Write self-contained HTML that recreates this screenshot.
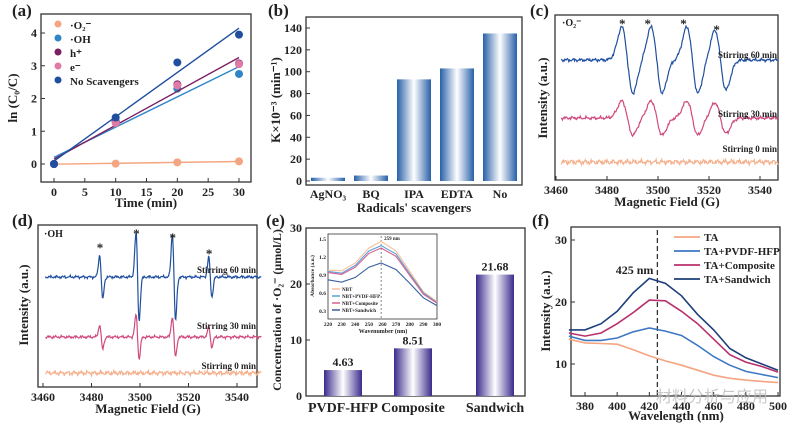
<!DOCTYPE html>
<html><head><meta charset="utf-8"><style>
body{margin:0;background:#fff}
svg text{font-family:"Liberation Serif",serif;font-weight:bold;fill:#222}
</style></head><body>
<svg id="s" width="795" height="433" viewBox="0 0 795 433" xmlns="http://www.w3.org/2000/svg">
<defs>
<linearGradient id="gb" x1="0" x2="1"><stop offset="0" stop-color="#2760a8"/><stop offset="0.5" stop-color="#ffffff"/><stop offset="1" stop-color="#2760a8"/></linearGradient>
<linearGradient id="ge" x1="0" x2="1"><stop offset="0" stop-color="#3a2b8c"/><stop offset="0.5" stop-color="#ffffff"/><stop offset="1" stop-color="#3a2b8c"/></linearGradient>
</defs>
</svg>
<script>
// ---- panel a data
const aTimes=[0,10,20,30];
const aO2=[0,0.01,0.05,0.08];
const aOH=[0,1.3,2.3,2.75];
const aH=[0,1.3,2.43,3.07];
const aE=[0,1.25,2.4,3.05];
const aNo=[0,1.42,3.1,3.95];
const aNames=['·O₂⁻','·OH','h⁺','e⁻','No Scavengers'];
// ---- panel b data
const bCats=['AgNO₃','BQ','IPA','EDTA','No'];
const bVals=[3,5,93,103,135];
// ---- panel c/d data (EPR lines)
const cCenters=[3488,3499.5,3513.5,3524.5];
const cAmps60=[1,1,1,0.9];
const cAmps30=[0.5,0.5,0.5,0.45];
const dCenters=[3484,3499,3514,3529];
const dAmps60=[0.5,1,1,0.45];
const dAmps30=[0.3,0.55,0.5,0.25];
// ---- panel e data
const eCats=['PVDF-HFP','Composite','Sandwich'];
const eVals=[4.63,8.51,21.68];
const insX=[220,230,240,250,259,270,280,290,300];
const insNBT=[0.98,0.97,1.1,1.35,1.46,1.3,0.96,0.62,0.46];
const insPV=[0.96,0.93,1.06,1.3,1.39,1.25,0.92,0.6,0.44];
const insCo=[0.94,0.91,1.03,1.26,1.35,1.21,0.89,0.58,0.43];
const insSa=[0.82,0.78,0.86,1.03,1.1,0.99,0.76,0.52,0.39];
// ---- panel f data
const fX=[370,380,390,400,410,420,430,440,450,460,470,480,490,500];
const fTA=[14,13.4,13.3,13.2,12.3,11.3,10.5,9.8,9.0,8.2,7.7,7.4,7.2,7.0];
const fPV=[14.5,13.8,13.8,14.2,15.2,15.8,15.3,14.6,13.0,11.2,9.8,8.8,8.3,7.8];
const fCo=[15,14.5,15.0,16.5,18.3,20.3,20.2,18.5,16.5,14.0,11.5,10.3,9.6,8.7];
const fSa=[15.5,15.5,16.5,18.5,21.5,23.8,23.0,21.0,18.0,15.5,12.5,11.0,10.0,9.0];

const S=document.getElementById('s');const NS='http://www.w3.org/2000/svg';
function el(t,a,p){const e=document.createElementNS(NS,t);for(const k in a)e.setAttribute(k,a[k]);(p||S).appendChild(e);return e;}
function txt(x,y,s,sz,anc,extra){const e=el('text',Object.assign({x:x,y:y,'font-size':sz,'text-anchor':anc||'middle'},extra||{}));e.textContent=s;return e;}
function lin(d0,d1,r0,r1){return v=>r0+(v-d0)/(d1-d0)*(r1-r0);}
function box(x0,y0,x1,y1,name){const r=el('rect',{x:x0,y:y0,width:x1-x0,height:y1-y0,fill:'none',stroke:'#333','stroke-width':1.3});}
function xtick(x,y,l){el('line',{x1:x,x2:x,y1:y,y2:y-4,stroke:'#333'});txt(x,y+14,l,12);}
function ytick(x,y,l){el('line',{x1:x,x2:x+4,y1:y,y2:y,stroke:'#333'});txt(x-4,y+4,l,12,'end');}
function ytitle(x,y,s,sz){const t=txt(x,y,s,sz||13,'middle',{transform:'rotate(-90 '+x+' '+y+')'});return t;}
function poly(pts,col,w,name){const p=el('polyline',{points:pts.map(q=>q[0].toFixed(1)+','+q[1].toFixed(1)).join(' '),fill:'none',stroke:col,'stroke-width':w||1.3});return p;}

// letters
[['(a)',12,16],['(b)',268,16],['(c)',530,16],['(d)',12,226],['(e)',266,226],['(f)',532,226]].forEach(l=>{const t=txt(l[1],l[2],l[0],17,'start');});

// ===== panel a
{const X=lin(0,30,54,239),Y=lin(0,4,164,33);box(41,14,251,182,'panel-a-axes');
[0,5,10,15,20,25,30].forEach(v=>xtick(X(v),182,v));[0,1,2,3,4].forEach(v=>ytick(41,Y(v),v));
txt(146,207,'Time (min)',13);ytitle(17,98,'ln (C₀/C)');
const ser=[aO2,aOH,aH,aE,aNo],cols=['#f4a582','#2f86c6','#7a1f62','#e07aa6','#1f4f9e'];
ser.forEach((s,i)=>{const n=4,mx=15,my=s.reduce((a,b)=>a+b)/n;let num=0;aTimes.forEach((t,j)=>num+=(t-mx)*(s[j]-my));const k=num/500,b=my-k*mx;
 if(i!==3)poly([[X(0),Y(b)],[X(30),Y(b+30*k)]],cols[i],1.4,'fit-line');
 s.forEach((v,j)=>{const c=el('circle',{cx:X(aTimes[j]),cy:Y(v),r:4,fill:cols[i]});});
 el('circle',{cx:58,cy:24+i*14,r:3.5,fill:cols[i]});const t=txt(70,29+i*14,aNames[i],11,'start');});
}
// ===== panel b
{const Y=lin(0,140,181,28);box(306,17,522,185,'panel-b-axes');
[0,20,40,60,80,100,120,140].forEach(v=>ytick(306,Y(v),v));
bCats.forEach((c,i)=>{const cx=328+i*43;const r=el('rect',{x:cx-17,y:Y(bVals[i]),width:34,height:Y(0)-Y(bVals[i]),fill:'url(#gb)'});txt(cx,198,c,12);});
txt(414,212,"Radicals' scavengers",13);ytitle(280,100,'K×10⁻³ (min⁻¹)');}
// ===== EPR
function noise(x,k){return Math.sin(x*2.3+k)*0.5+Math.sin(x*5.7+k*2)*0.35+Math.sin(x*11.1+k*3)*0.3+Math.sin(x*17.3+k)*0.25;}
function epr(X,centers,amps,sig,base,scale,nz,col,k,name,x0,x1){const pts=[];for(let f=x0;f<=x1;f+=0.25){let v=0;centers.forEach((c,i)=>{const u=(f-c)/sig;v+=-amps[i]*u*Math.exp(-u*u/2)*1.65;});pts.push([X(f),base-v*scale-noise(f,k)*nz]);}poly(pts,col,1.2,name);}
{const X=lin(3460,3540,556,760);box(555,15,778,180,'panel-c-axes');[3460,3480,3500,3520,3540].forEach(v=>xtick(X(v),180,v));
epr(X,cCenters,cAmps60,2.2,60,33,1.6,'#2050a0',1,'curve-60min',3462,3547);epr(X,cCenters,cAmps30,2.2,118,34,1.6,'#d04a7e',2,'curve-30min',3462,3547);epr(X,[],[],2,162,1,2.5,'#f4b08c',3,'curve-0min',3462,3547);
[3486,3496,3510,3523].forEach((f,i)=>txt(X(f),i==3?34:28,'*',13));
txt(562,26,'·O₂⁻',10,'start');txt(777,58,'Stirring 60 min',9,'end');txt(777,117,'Stirring 30 min',9,'end');txt(777,152,'Stirring 0 min',9,'end');
txt(667,206,'Magnetic Field (G)',13);ytitle(547,98,'Intensity (a.u.)');}
{const X=lin(3460,3540,43,237);box(38,225,257,387,'panel-d-axes');[3460,3480,3500,3520,3540].forEach(v=>xtick(X(v),387,v));
epr(X,dCenters,dAmps60,0.65,277,44,1.4,'#2050a0',4,'curve-60min',3461,3550);epr(X,dCenters,dAmps30,0.65,337,40,1.4,'#d04a7e',5,'curve-30min',3461,3550);epr(X,[],[],2,373,1,2.2,'#f4b08c',6,'curve-0min',3461,3550);
[3483.5,3498.5,3513.5,3528.5].forEach((f,i)=>txt(X(f),[252,238,242,258][i],'*',13));
txt(44,237,'·OH',10,'start');txt(256,273,'Stirring 60 min',9,'end');txt(256,329,'Stirring 30 min',9,'end');txt(256,369,'Stirring 0 min',9,'end');
txt(148,413,'Magnetic Field (G)',13);ytitle(28,305,'Intensity (a.u.)');}
// ===== panel e
{const Y=lin(0,30,396,228);box(306,228,525,396,'panel-e-axes');[0,10,20,30].forEach(v=>ytick(306,Y(v),v));
const cx=[343,413,495];eCats.forEach((c,i)=>{const r=el('rect',{x:cx[i]-19,y:Y(eVals[i]),width:38,height:Y(0)-Y(eVals[i]),fill:'url(#ge)'});
 txt(cx[i],Y(eVals[i])-4,eVals[i].toFixed(2),12);txt(cx[i],412,c,14);});
ytitle(281,310,'Concentration of ·O₂⁻ (μmol/L)',12);
const IX=lin(220,300,328,437),IY=lin(0.3,1.5,311,239);el('rect',{x:328,y:234,width:109,height:85,fill:'#fff',stroke:'#333','stroke-width':0.8});
[220,230,240,250,260,270,280,290,300].forEach(v=>txt(IX(v),326,v,5.5));[0.3,0.6,0.9,1.2,1.5].forEach(v=>txt(326,IY(v)+2,v.toFixed(1),5.5,'end'));
txt(383,333,'Wavenumber (nm)',6);ytitle(314,276,'Absorbance (a.u.)',5.5);
el('line',{x1:IX(259),x2:IX(259),y1:236,y2:319,stroke:'#555','stroke-dasharray':'2,2','stroke-width':0.7});txt(IX(259)+3,240,'259 nm',5,'start');
const isr=[insNBT,insPV,insCo,insSa],ic=['#f7c09a','#5aa0d8','#d8608e','#3a5f9e'],inm=['NBT','NBT+PVDF-HFP','NBT+Composite','NBT+Sandwich'];
isr.forEach((s,i)=>{poly(s.map((v,j)=>[IX(insX[j]),IY(v)]),ic[i],1.1,'inset-curve');el('line',{x1:332,x2:340,y1:289+i*7,y2:289+i*7,stroke:ic[i],'stroke-width':1.5});txt(342,291+i*7,inm[i],5,'start');});}
// ===== panel f
{const X=lin(380,500,585,778),Y=lin(10,30,364,240);box(571,227,780,396,'panel-f-axes');
[380,400,420,440,460,480,500].forEach(v=>xtick(X(v),396,v));[10,20,30].forEach(v=>ytick(571,Y(v),v));
el('line',{x1:X(425),x2:X(425),y1:230,y2:396,stroke:'#333','stroke-dasharray':'5,3','stroke-width':1.3});txt(X(425)-4,274,'425 nm',12,'end');
const fs=[fTA,fPV,fCo,fSa],fc=['#f4a582','#3e78c4','#b8306c','#1e3f7a'],fn=['TA','TA+PVDF-HFP','TA+Composite','TA+Sandwich'];
fs.forEach((s,i)=>{poly(s.map((v,j)=>[X(fX[j]),Y(v)]),fc[i],1.6,'curve-'+i);el('line',{x1:674,x2:700,y1:237+i*14,y2:237+i*14,stroke:fc[i],'stroke-width':1.8});const t=txt(704,241+i*14,fn[i],11,'start');});
txt(676,420,'Wavelength (nm)',13);ytitle(550,311,'Intensity (a.u.)');
txt(712,402,'材料分析与应用',16,'middle',{style:'font-family:"Noto Sans CJK SC",sans-serif;font-weight:normal;fill:#bbb;opacity:0.8'});}
</script>
</body></html>
